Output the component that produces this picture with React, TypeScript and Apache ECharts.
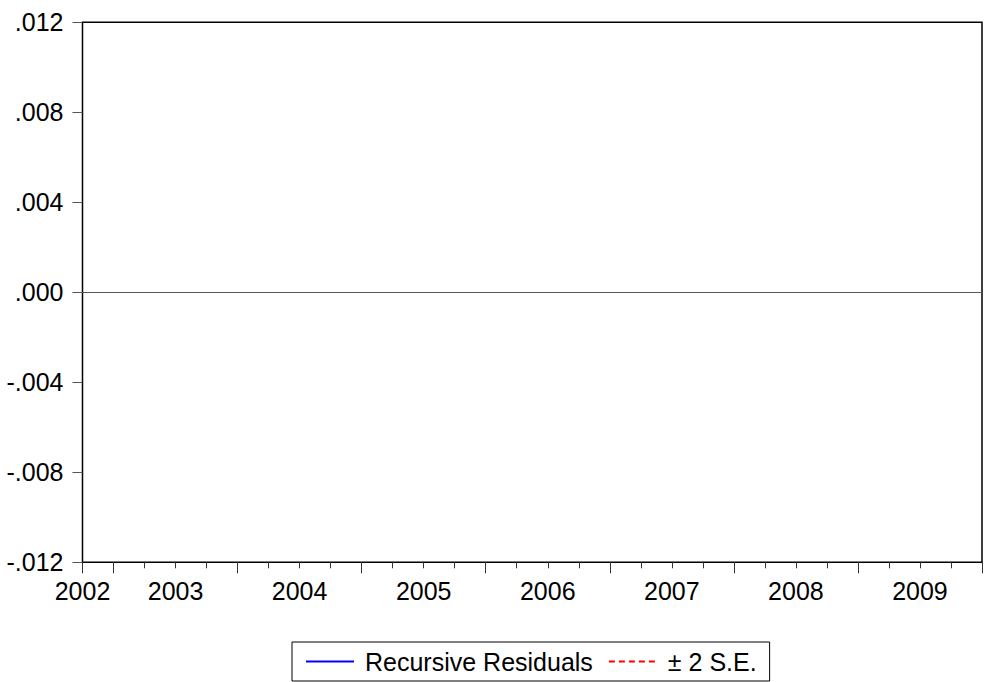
import React, { useEffect, useRef } from "react";
import * as echarts from "echarts";

// Quarterly sample shown on the time axis (2002Q4 .. 2009Q4)
const quarters: string[] = [
  "2002Q4",
  "2003Q1", "2003Q2", "2003Q3", "2003Q4",
  "2004Q1", "2004Q2", "2004Q3", "2004Q4",
  "2005Q1", "2005Q2", "2005Q3", "2005Q4",
  "2006Q1", "2006Q2", "2006Q3", "2006Q4",
  "2007Q1", "2007Q2", "2007Q3", "2007Q4",
  "2008Q1", "2008Q2", "2008Q3", "2008Q4",
  "2009Q1", "2009Q2", "2009Q3", "2009Q4",
];

const yearLabels: string[] = ["2002", "2003", "2004", "2005", "2006", "2007", "2008", "2009"];

// y-axis ticks
const yTicks: number[] = [-0.012, -0.008, -0.004, 0, 0.004, 0.008, 0.012];

// Series values: nothing is visible inside the plot area of the reference
const recursiveResiduals: (number | null)[] = [];
const sePlus2: (number | null)[] = [];
const seMinus2: (number | null)[] = [];

const FONT = "'Liberation Sans', Arial, Helvetica, sans-serif";

function fmtY(v: number): string {
  const s = Math.abs(v).toFixed(3).replace(/^0/, "");
  return (v < -1e-9 ? "-" : "") + s;
}

export default function App() {
  const ref = useRef<HTMLDivElement>(null);

  useEffect(() => {
    document.body.style.margin = "0";
    if (!ref.current) return;
    const chart = echarts.init(ref.current, undefined, { renderer: "svg" });

    const n = quarters.length;
    const quarterBounds = Array.from({ length: n + 1 }, (_, i) => i);
    const yearBounds = [0];
    quarters.forEach((q, i) => {
      if (q.endsWith("Q1")) yearBounds.push(i);
    });
    yearBounds.push(n);

    const labelPos: number[] = [];
    const labelMap: Record<string, string> = {};
    yearLabels.forEach((y) => {
      const first = quarters.findIndex((q) => q.startsWith(y));
      const qn = parseInt(quarters[first].slice(5), 10);
      const pos = Math.max(0, first - qn + 1 + 2);
      labelPos.push(pos);
      labelMap[String(pos)] = y;
    });

    const toPairs = (arr: (number | null)[]) => arr.map((v, i) => [i, v]);

    const baseX = {
      type: "value",
      min: 0,
      max: n,
      position: "bottom",
      splitLine: { show: false },
    };

    chart.setOption({
      animation: false,
      backgroundColor: "#ffffff",
      textStyle: { fontFamily: FONT },
      grid: {
        left: 82.5,
        right: 4,
        top: 22.3,
        bottom: 119.7,
        show: true,
        borderColor: "#000000",
        borderWidth: 1.5,
        backgroundColor: "transparent",
      },
      xAxis: [
        {
          ...baseX,
          axisLine: { show: false, onZero: false },
          axisTick: {
            show: true,
            customValues: quarterBounds,
            length: 6,
            lineStyle: { color: "#333333", width: 1 },
          },
          axisLabel: {
            show: true,
            customValues: labelPos,
            formatter: (v: number) => labelMap[String(v)] ?? "",
            margin: 16,
            color: "#000000",
            fontSize: 25,
            fontFamily: FONT,
          },
        },
        {
          ...baseX,
          axisLine: { show: false, onZero: false },
          axisTick: {
            show: true,
            customValues: yearBounds,
            length: 11,
            lineStyle: { color: "#333333", width: 1 },
          },
          axisLabel: { show: false },
        },
        {
          ...baseX,
          axisLine: { show: true, onZero: true, lineStyle: { color: "#555555", width: 1.2 } },
          axisTick: { show: false },
          axisLabel: { show: false },
        },
      ],
      yAxis: {
        type: "value",
        min: yTicks[0],
        max: yTicks[yTicks.length - 1],
        interval: 0.004,
        axisLine: { show: false },
        splitLine: { show: false },
        axisTick: { show: true, length: 10, lineStyle: { color: "#555555", width: 1 } },
        axisLabel: {
          formatter: (v: number) => fmtY(v),
          margin: 19,
          color: "#000000",
          fontSize: 25,
          fontFamily: FONT,
          padding: [0, 0, 5, 0],
        },
      },
      legend: {
        left: 292,
        top: 642,
        orient: "horizontal",
        borderColor: "#000000",
        borderWidth: 1,
        padding: [7, 13, 7, 13],
        itemWidth: 48,
        itemHeight: 14,
        itemGap: 15,
        itemStyle: { opacity: 0 },
        textStyle: {
          fontSize: 25,
          fontFamily: FONT,
          color: "#000000",
          lineHeight: 25,
          padding: [0, 0, 0, 6],
        },
        data: ["Recursive Residuals", "± 2 S.E."],
      },
      series: [
        {
          name: "Recursive Residuals",
          type: "line",
          xAxisIndex: 0,
          data: toPairs(recursiveResiduals),
          symbol: "none",
          lineStyle: { color: "#0000ff", width: 1 },
          itemStyle: { color: "#0000ff" },
        },
        {
          name: "± 2 S.E.",
          type: "line",
          xAxisIndex: 0,
          data: toPairs(sePlus2),
          symbol: "none",
          lineStyle: { color: "#ff0000", width: 1, type: [6, 4] },
          itemStyle: { color: "#ff0000" },
        },
        {
          name: "± 2 S.E.",
          type: "line",
          xAxisIndex: 0,
          data: toPairs(seMinus2),
          symbol: "none",
          lineStyle: { color: "#ff0000", width: 1, type: [6, 4] },
          itemStyle: { color: "#ff0000" },
        },
      ],
    });

    return () => chart.dispose();
  }, []);

  return <div ref={ref} style={{ width: 986, height: 682 }} />;
}
